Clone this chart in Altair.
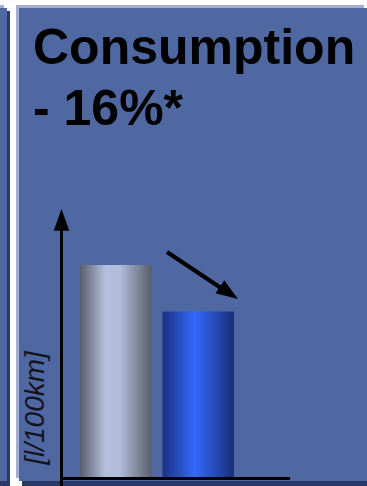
import altair as alt
import pandas as pd

# Fuel consumption of the two cars, in l/100km
models = ["previous model", "new model"]
consumption = [7.8, 6.1]

title_lines = ["Consumption", "- 16%*"]
unit_label = "[l/100km]"

PANEL = "#4f68a1"
PANEL_LIGHT = "#a3aed0"
PANEL_DARK = "#2a3a66"

bars = pd.DataFrame({"model": models, "consumption": consumption})
one = pd.DataFrame({"k": [0]})

x_enc = alt.X("model:N", sort=models, axis=None,
              scale=alt.Scale(range=[80, 234], paddingInner=0.1333, paddingOuter=0))
y_enc = alt.Y("consumption:Q", axis=None,
              scale=alt.Scale(domain=[0, 10], range=[478, 205], nice=False, zero=True))


def box(x0, x1, y0, y1, color):
    return alt.Chart(one).mark_rect(color=color).encode(
        x=alt.value(x0), x2=alt.value(x1), y=alt.value(y0), y2=alt.value(y1))


# slide panels: the neighbouring one at the left edge and the main one
panels = [
    box(0, 10, 11, 486, PANEL_DARK),
    box(0, 4, 5, 478, PANEL_LIGHT),
    box(0, 7, 8, 481, PANEL),
    box(22, 370, 11, 486, PANEL_DARK),
    box(16, 364, 5, 478, PANEL_LIGHT),
    box(19, 367, 8, 481, PANEL),
]


def gradient(stops):
    return alt.Gradient(
        gradient="linear", x1=0, x2=1, y1=0, y2=0,
        stops=[alt.GradientStop(color=c, offset=o) for o, c in stops])


gray_fill = gradient([(0, "#5a5e6c"), (0.35, "#b2bedc"), (0.55, "#b2bedc"), (1, "#5a5e6a")])
blue_fill = gradient([(0, "#1b3183"), (0.45, "#3469fb"), (1, "#1a2d78")])

old_bar = alt.Chart(bars).transform_filter(
    alt.datum.model == models[0]).mark_bar(fill=gray_fill, stroke=None).encode(
    x=x_enc, y=y_enc)
new_bar = alt.Chart(bars).transform_filter(
    alt.datum.model == models[1]).mark_bar(fill=blue_fill, stroke=None).encode(
    x=x_enc, y=y_enc)

# hand-drawn style axes
x_axis = alt.Chart(one).mark_rule(color="black", strokeWidth=3, strokeCap="butt").encode(
    x=alt.value(60), x2=alt.value(290), y=alt.value(478.5))
y_axis = alt.Chart(one).mark_rule(color="black", strokeWidth=3, strokeCap="butt").encode(
    x=alt.value(61.5), y=alt.value(224), y2=alt.value(486))

head = "M0,-1L0.7,0.95L-0.7,0.95Z"
y_head = alt.Chart(one).mark_point(shape=head, filled=True, color="black",
                                   opacity=1, size=500, strokeWidth=0).encode(
    x=alt.value(61.5), y=alt.value(220.2))

# trend arrow between the bars
trend = alt.Chart(one).mark_rule(color="black", strokeWidth=4, strokeCap="butt").encode(
    x=alt.value(167), y=alt.value(252), x2=alt.value(227), y2=alt.value(292))
trend_head = alt.Chart(one).mark_point(shape=head, filled=True, color="black",
                                       opacity=1, size=500, strokeWidth=0,
                                       angle=124).encode(
    x=alt.value(228.7), y=alt.value(292.8))

title_font = dict(font="Liberation Sans", fontWeight="bold", fontSize=50,
                  align="left", baseline="alphabetic", color="black")
title1 = alt.Chart(one).mark_text(text=title_lines[0], **title_font).encode(
    x=alt.value(33), y=alt.value(64))
title2 = alt.Chart(one).mark_text(text=title_lines[1], **title_font).encode(
    x=alt.value(33), y=alt.value(125))

unit = alt.Chart(one).mark_text(
    text=unit_label, font="Liberation Sans", fontStyle="italic", fontSize=28,
    angle=270, align="center", baseline="middle", color="#141420").encode(
    x=alt.value(36), y=alt.value(408))

chart = alt.layer(
    *panels, old_bar, new_bar, x_axis, y_axis, y_head, trend, trend_head,
    title1, title2, unit
).properties(
    width=367, height=486,
    autosize=alt.AutoSizeParams(type="none"),
    padding=0, background="white",
).configure_view(stroke=None)

chart.save("out.html", embed_options={"renderer": "svg", "actions": False})
